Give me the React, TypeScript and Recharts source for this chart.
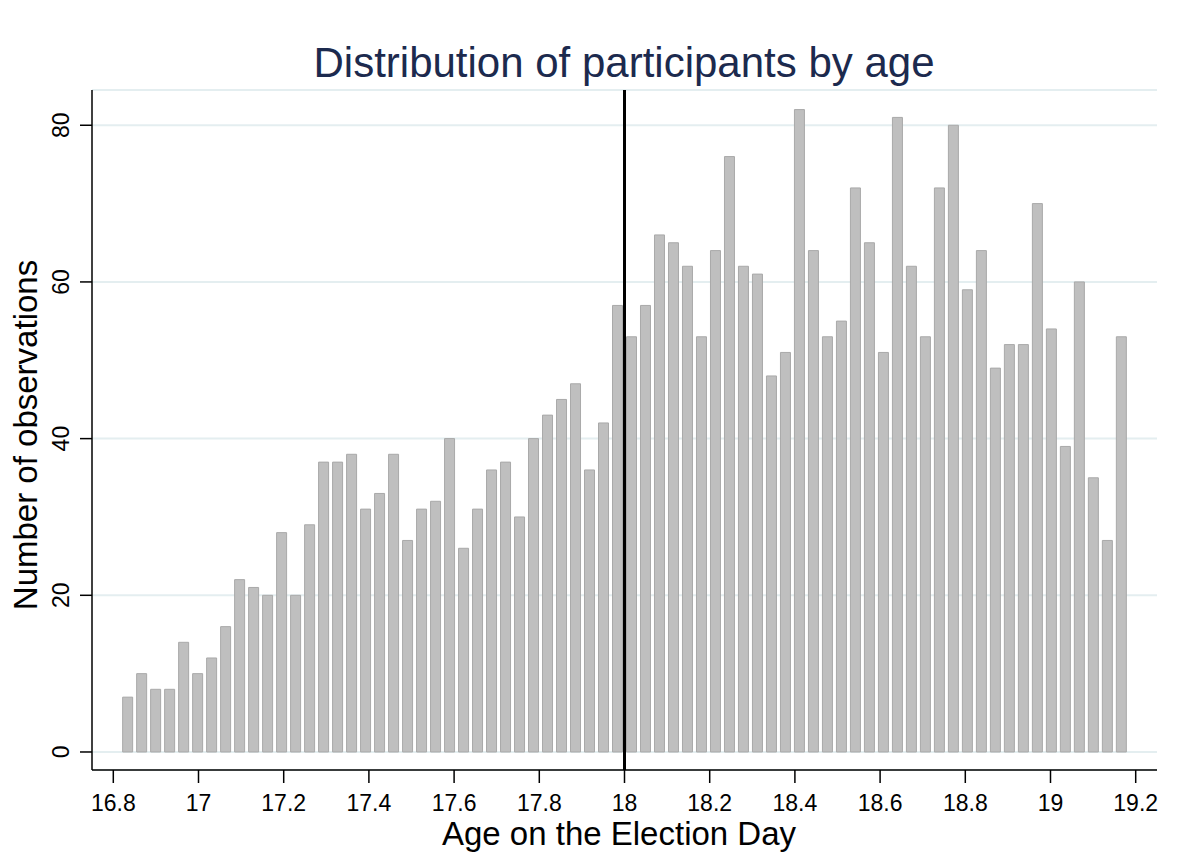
import React from 'react';
import { BarChart, Bar, XAxis, YAxis, CartesianGrid, ReferenceLine, Label } from 'recharts';

// Histogram of participants' age on election day: 72 bins of 12 days, 18 is a bin edge
const binWidthYears = 12 / 365.25;
const cutoffAge = 18;
const counts: number[] = [
  7, 10, 8, 8, 14, 10, 12, 16, 22, 21,
  20, 28, 20, 29, 37, 37, 38, 31, 33, 38,
  27, 31, 32, 40, 26, 31, 36, 37, 30, 40,
  43, 45, 47, 36, 42, 57, 53, 57, 66, 65,
  62, 53, 64, 76, 62, 61, 48, 51, 82, 64,
  53, 55, 72, 65, 51, 81, 62, 53, 72, 80,
  59, 64, 49, 52, 52, 70, 54, 39, 60, 35,
  27, 53,
];
const binsBelowCutoff = 36;
const binCenters: number[] = counts.map((_, i) => cutoffAge + (i - binsBelowCutoff + 0.5) * binWidthYears);

const xTicks = [16.8, 17, 17.2, 17.4, 17.6, 17.8, 18, 18.2, 18.4, 18.6, 18.8, 19, 19.2];
const yTicks = [0, 20, 40, 60, 80];

const title = 'Distribution of participants by age';
const xTitle = 'Age on the Election Day';
const yTitle = 'Number of observations';

const data = binCenters.map((x, i) => ({ x, count: counts[i] }));

const FONT = '"Liberation Sans", Arial, Helvetica, sans-serif';

const YTick = (props: any) => {
  const { x, y, payload } = props;
  return (
    <text
      transform={`translate(${x - 9},${y}) rotate(-90)`}
      textAnchor="middle"
      fontSize={23}
      fontFamily={FONT}
      fill="#000"
    >
      {payload.value}
    </text>
  );
};

const XTick = (props: any) => {
  const { x, payload } = props;
  return (
    <text x={x} y={811} textAnchor="middle" fontSize={23} fontFamily={FONT} fill="#000">
      {payload.value}
    </text>
  );
};

export default function App() {
  return (
    <div style={{ position: 'absolute', left: 0, top: 0, width: 1182, height: 856, background: '#fff' }}>
      <BarChart
        width={1182}
        height={856}
        data={data}
        margin={{ top: 90, right: 25, bottom: 56, left: 0 }}
        barCategoryGap={0}
      >
        <CartesianGrid horizontal vertical={false} stroke="#e4eef0" strokeWidth={2} />
        <XAxis
          dataKey="x"
          type="number"
          domain={[16.75, 19.25]}
          ticks={xTicks}
          allowDataOverflow
          height={30}
          tickSize={13}
          tickMargin={13}
          axisLine={{ stroke: '#000', strokeWidth: 1.5 }}
          tickLine={{ stroke: '#000', strokeWidth: 1.5 }}
          tick={<XTick />}
          interval={0}
        >
          <Label
            content={() => (
              <text x={619} y={845} textAnchor="middle" fontSize={33} fontFamily={FONT} fill="#000">
                {xTitle}
              </text>
            )}
          />
        </XAxis>
        <YAxis
          type="number"
          domain={[-2.3, 84.5]}
          ticks={yTicks}
          allowDataOverflow
          width={92}
          tickSize={12}
          tickMargin={2}
          axisLine={{ stroke: '#000', strokeWidth: 1.5 }}
          tickLine={{ stroke: '#000', strokeWidth: 1.5 }}
          tick={<YTick />}
          interval={0}
        >
          <Label
            content={() => (
              <text
                transform="translate(37,435) rotate(-90)"
                textAnchor="middle"
                fontSize={33}
                fontFamily={FONT}
                fill="#000"
              >
                {yTitle}
              </text>
            )}
          />
        </YAxis>
        <Bar dataKey="count" barSize={10} fill="#bfbfbf" stroke="#a9a9a9" strokeWidth={1} isAnimationActive={false} />
        <ReferenceLine x={cutoffAge} stroke="#000" strokeWidth={3} ifOverflow="extendDomain" />
      </BarChart>
      <svg width={1182} height={100} style={{ position: 'absolute', left: 0, top: 0, pointerEvents: 'none' }}>
        <text x={624} y={77} textAnchor="middle" fontSize={42} fontFamily={FONT} fill="#1c2a4e">
          {title}
        </text>
      </svg>
    </div>
  );
}
